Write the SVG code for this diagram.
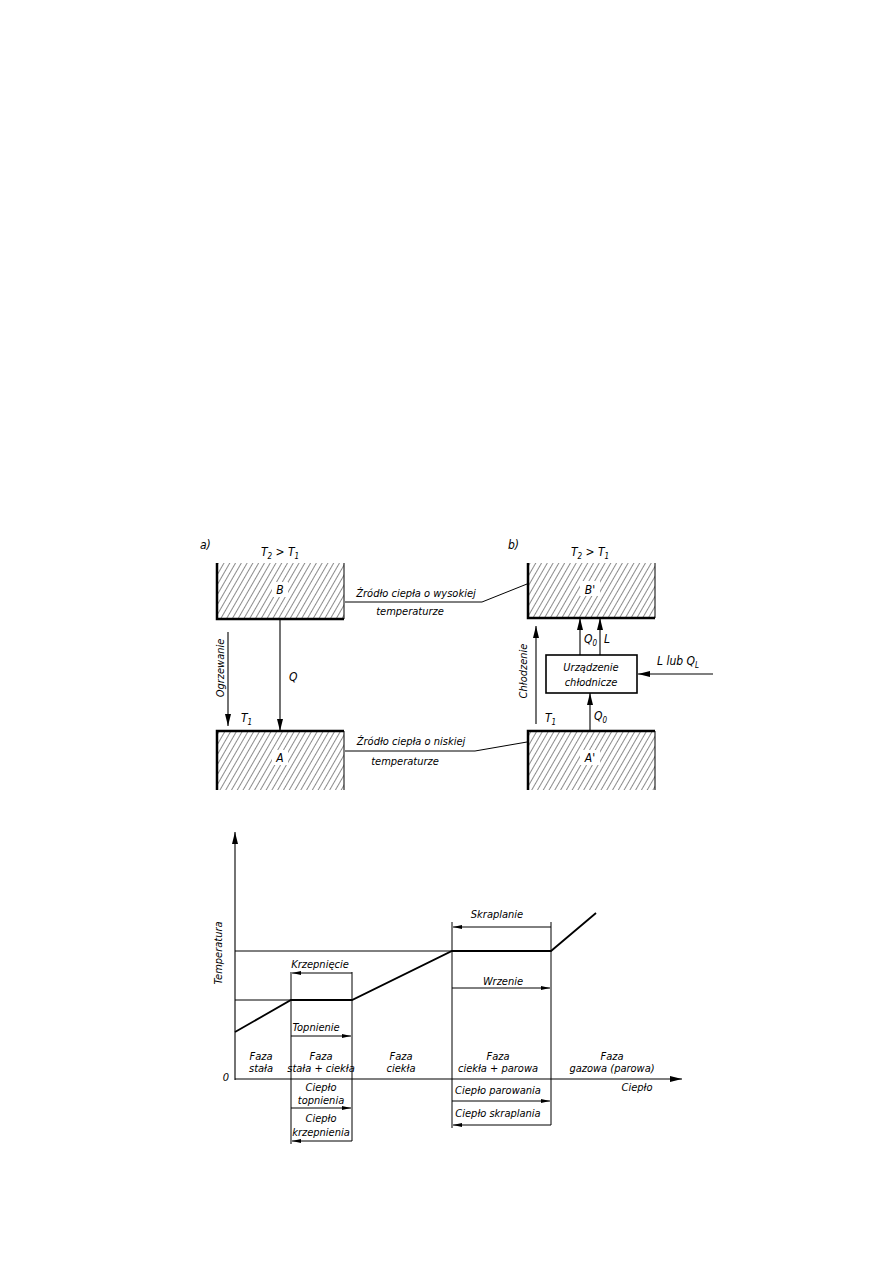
<svg xmlns="http://www.w3.org/2000/svg" width="893" height="1263" viewBox="0 0 893 1263">
<style>
text{font-family:"DejaVu Sans Condensed","DejaVu Sans",sans-serif;font-style:italic;font-size:11px;fill:#000}
.c{text-anchor:middle}
.big{font-size:12px}
.sub{font-size:8px}
.ln{stroke:#000;stroke-width:1;fill:none}
.thk{stroke:#000;stroke-width:2.5;fill:none}
.med{stroke:#000;stroke-width:1.8;fill:none}
.ar{stroke:#000;stroke-width:1.1;fill:none;marker-end:url(#ah)}
.sa{stroke:#000;stroke-width:1;fill:none;marker-end:url(#sh)}
</style>
<defs>
<pattern id="hatch" width="5" height="10" patternUnits="userSpaceOnUse" patternTransform="rotate(30)">
<line x1="0" y1="0" x2="0" y2="10" stroke="#000" stroke-width="0.9"/>
</pattern>
<marker id="ah" markerUnits="userSpaceOnUse" markerWidth="12" markerHeight="6" refX="12" refY="3" orient="auto">
<path d="M0,0 L12,3 L0,6 z" fill="#000"/>
</marker>
<marker id="sh" markerUnits="userSpaceOnUse" markerWidth="9" markerHeight="4" refX="9" refY="2" orient="auto">
<path d="M0,0 L9,2 L0,4 z" fill="#000"/>
</marker>
</defs>
<rect width="893" height="1263" fill="#fff"/>

<!-- Part a -->
<text x="200" y="549" class="big">a)</text>
<text x="280" y="556" class="c big">T<tspan class="sub" dy="3">2</tspan><tspan dy="-3"> &gt; T</tspan><tspan class="sub" dy="3">1</tspan></text>

<g id="nodeB">
<rect x="216" y="563" width="128" height="56" fill="url(#hatch)"/>
<polyline class="thk" points="217,563 217,619 344,619"/>
<line class="ln" x1="344" y1="563" x2="344" y2="619"/>
<rect x="272" y="582" width="16" height="15" fill="#fff"/>
<text x="280" y="594" class="c big">B</text>
</g>

<g id="nodeA">
<rect x="216" y="731" width="128" height="59" fill="url(#hatch)"/>
<polyline class="thk" points="217,790 217,731 344,731"/>
<line class="ln" x1="344" y1="731" x2="344" y2="790"/>
<rect x="272" y="750" width="16" height="15" fill="#fff"/>
<text x="280" y="762" class="c big">A</text>
</g>

<!-- Part b -->
<text x="508" y="549" class="big">b)</text>
<text x="590" y="556" class="c big">T<tspan class="sub" dy="3">2</tspan><tspan dy="-3"> &gt; T</tspan><tspan class="sub" dy="3">1</tspan></text>

<g id="nodeB2">
<rect x="527" y="563" width="128" height="55" fill="url(#hatch)"/>
<polyline class="thk" points="528,563 528,618 655,618"/>
<line class="ln" x1="655" y1="563" x2="655" y2="618"/>
<rect x="580" y="581" width="20" height="15" fill="#fff"/>
<text x="590" y="594" class="c big">B'</text>
</g>

<g id="nodeA2">
<rect x="527" y="731" width="128" height="59" fill="url(#hatch)"/>
<polyline class="thk" points="528,790 528,731 655,731"/>
<line class="ln" x1="655" y1="731" x2="655" y2="790"/>
<rect x="580" y="750" width="20" height="15" fill="#fff"/>
<text x="590" y="762" class="c big">A'</text>
</g>

<g id="nodeUrz">
<rect x="546" y="655" width="91" height="38" fill="#fff" stroke="#000" stroke-width="1.6"/>
<text x="591" y="671" class="c">Urządzenie</text>
<text x="591" y="686" class="c">chłodnicze</text>
</g>

<g id="labels">
<text x="416" y="597" class="c">Źródło ciepła o wysokiej</text>
<text x="410" y="615" class="c">temperaturze</text>
<text x="411" y="745" class="c">Źródło ciepła o niskiej</text>
<text x="405" y="765" class="c">temperaturze</text>
<text x="224" y="668" class="c" transform="rotate(-90 224 668)">Ogrzewanie</text>
<text x="289" y="681" class="big">Q</text>
<text x="241" y="722" class="big">T<tspan class="sub" dy="3">1</tspan></text>
<text x="527" y="671" class="c" transform="rotate(-90 527 671)">Chłodzenie</text>
<text x="545" y="722" class="big">T<tspan class="sub" dy="3">1</tspan></text>
<text x="584" y="643" class="big">Q<tspan class="sub" dy="3">0</tspan></text>
<text x="604" y="643" class="big">L</text>
<text x="594" y="720" class="big">Q<tspan class="sub" dy="3">0</tspan></text>
<text x="657" y="665" class="big">L lub Q<tspan class="sub" dy="3">L</tspan></text>
</g>

<g id="connectors">
<line class="ar" x1="280" y1="619" x2="280" y2="731"/>
<line class="ar" x1="228" y1="632" x2="228" y2="726"/>
<line class="ar" x1="580" y1="655" x2="580" y2="618"/>
<line class="ar" x1="600" y1="655" x2="600" y2="618"/>
<line class="ar" x1="590" y1="731" x2="590" y2="693"/>
<line class="ar" x1="536" y1="724" x2="536" y2="626"/>
<line class="ar" x1="713" y1="674" x2="638" y2="674"/>
<polyline class="ln" points="345,602 482,602 527,584"/>
<polyline class="ln" points="345,751 475,751 527,742"/>
</g>

<!-- Graph -->
<g id="axes">
<line class="ar" x1="235" y1="1080" x2="235" y2="832"/>
<line class="ar" x1="235" y1="1079" x2="682" y2="1079"/>
<text x="226" y="1081" class="c">0</text>
<text x="222" y="953" class="c" transform="rotate(-90 222 953)">Temperatura</text>
<text x="637" y="1091" class="c">Ciepło</text>
</g>

<g id="curve">
<line class="ln" x1="235" y1="951" x2="452" y2="951"/>
<line class="ln" x1="235" y1="1000" x2="291" y2="1000"/>
<polyline class="med" points="235,1032 291,1000 352,1000 452,951 551,951 596,913"/>
</g>

<g id="brackets-left">
<line class="ln" x1="291" y1="972" x2="291" y2="1144"/>
<line class="ln" x1="352" y1="972" x2="352" y2="1141"/>
<line class="sa" x1="352" y1="973" x2="292" y2="973"/>
<text x="320" y="968" class="c">Krzepnięcie</text>
<line class="sa" x1="291" y1="1036" x2="351" y2="1036"/>
<text x="316" y="1031" class="c">Topnienie</text>
<line class="sa" x1="291" y1="1108" x2="351" y2="1108"/>
<text x="321" y="1091" class="c">Ciepło</text>
<text x="321" y="1104" class="c">topnienia</text>
<line class="sa" x1="352" y1="1141" x2="292" y2="1141"/>
<text x="321" y="1122" class="c">Ciepło</text>
<text x="321" y="1136" class="c">krzepnienia</text>
</g>

<g id="brackets-right">
<line class="ln" x1="452" y1="922" x2="452" y2="1128"/>
<line class="ln" x1="551" y1="922" x2="551" y2="1125"/>
<line class="sa" x1="551" y1="927" x2="453" y2="927"/>
<text x="497" y="918" class="c">Skraplanie</text>
<line class="sa" x1="452" y1="988" x2="550" y2="988"/>
<text x="503" y="985" class="c">Wrzenie</text>
<line class="sa" x1="452" y1="1101" x2="550" y2="1101"/>
<text x="498" y="1094" class="c">Ciepło parowania</text>
<line class="sa" x1="551" y1="1125" x2="453" y2="1125"/>
<text x="498" y="1117" class="c">Ciepło skraplania</text>
</g>

<g id="phases">
<text x="261" y="1060" class="c">Faza</text>
<text x="261" y="1072" class="c">stała</text>
<text x="321" y="1060" class="c">Faza</text>
<text x="321" y="1072" class="c">stała + ciekła</text>
<text x="401" y="1060" class="c">Faza</text>
<text x="401" y="1072" class="c">ciekła</text>
<text x="498" y="1060" class="c">Faza</text>
<text x="498" y="1072" class="c">ciekła + parowa</text>
<text x="612" y="1060" class="c">Faza</text>
<text x="612" y="1072" class="c">gazowa (parowa)</text>
</g>
</svg>
